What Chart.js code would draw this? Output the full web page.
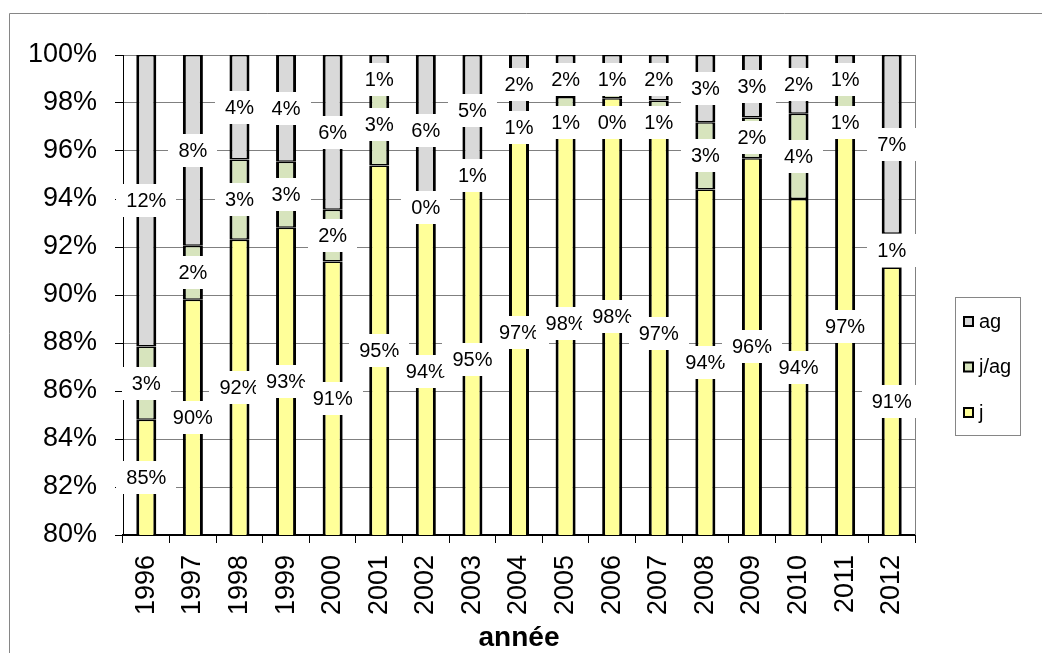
<!DOCTYPE html>
<html>
<head>
<meta charset="utf-8">
<script src="https://cdn.jsdelivr.net/npm/chart.js@4.4.1/dist/chart.umd.min.js"></script>
<style>
  html, body { margin: 0; padding: 0; background: #fff; }
  canvas { display: block; }
</style>
</head>
<body>
<canvas id="chart" width="1042" height="653"></canvas>
<script>
// Categories (years) and the three shares per year, in percent
const years = ['1996','1997','1998','1999','2000','2001','2002','2003','2004','2005','2006','2007','2008','2009','2010','2011','2012'];
const shareJ   = [84.8, 89.8, 92.3, 92.8, 91.4, 95.4, 93.6, 94.6, 96.9, 97.6, 98.2, 96.8, 94.4, 95.7, 94.0, 97.4, 91.15];
const shareJAg = [3.05, 2.25, 3.35, 2.75, 2.15, 3.4, 0.1, 0.8, 0.65, 0.65, 0.4, 1.3, 2.8, 1.7, 3.55, 1.45, 1.4];
const shareAg  = [12.15, 7.95, 4.35, 4.45, 6.45, 1.2, 6.3, 4.6, 2.45, 1.75, 1.4, 1.9, 2.8, 2.6, 2.45, 1.15, 7.45];
const yTicks   = [80, 82, 84, 86, 88, 90, 92, 94, 96, 98, 100];

const FONT = '"Liberation Sans", Arial, sans-serif';

// White page, outer frame and the grey right edge of the plot area
const frame = {
  id: 'frame',
  beforeDraw(chart) {
    const ctx = chart.ctx;
    ctx.save();
    ctx.fillStyle = '#fff';
    ctx.fillRect(0, 0, chart.width, chart.height);
    ctx.strokeStyle = '#868686';
    ctx.lineWidth = 1;
    ctx.beginPath();
    ctx.moveTo(9.5, chart.height + 2);
    ctx.lineTo(9.5, 13.5);
    ctx.lineTo(chart.width + 2, 13.5);
    ctx.stroke();
    ctx.restore();
  },
  beforeDatasetsDraw(chart) {
    const { ctx, chartArea: a } = chart;
    ctx.save();
    ctx.strokeStyle = '#808080';
    ctx.lineWidth = 1;
    const x = Math.round(a.right) + 0.5;
    ctx.beginPath();
    ctx.moveTo(x, a.top);
    ctx.lineTo(x, a.bottom);
    ctx.stroke();
    ctx.restore();
  }
};

// Percentage labels on white boxes, centred on the visible part of each segment;
// boxes in the same column are nudged downwards so they never overlap
const segmentLabels = {
  id: 'segmentLabels',
  afterDatasetsDraw(chart) {
    const { ctx, chartArea: a } = chart;
    const padX = 10, boxH = 33, gap = 10, topMargin = 8;
    ctx.save();
    ctx.font = '20px ' + FONT;
    const n = chart.data.labels.length;
    const placed = chart.data.datasets.map(() => []);
    for (let i = 0; i < n; i++) {
      const col = [];
      chart.data.datasets.forEach((ds, d) => {
        const el = chart.getDatasetMeta(d).data[i];
        const top = Math.max(Math.min(el.y, el.base), a.top);
        const bottom = Math.min(Math.max(el.y, el.base), a.bottom);
        if (bottom <= top) return;
        const text = Math.round(ds.data[i]) + '%';
        const w = ctx.measureText(text).width + 2 * padX;
        col.push({ d, x: el.x, cy: (top + bottom) / 2, w, text });
      });
      col.sort((p, q) => p.cy - q.cy);
      let limit = a.top + topMargin;
      col.forEach(b => {
        if (b.cy - boxH / 2 < limit) b.cy = limit + boxH / 2;
        limit = b.cy + boxH / 2 + gap;
        placed[b.d][i] = b;
      });
    }
    ctx.textAlign = 'center';
    ctx.textBaseline = 'middle';
    placed.forEach(list => {
      list.forEach(b => {
        if (!b) return;
        ctx.fillStyle = '#fff';
        ctx.fillRect(Math.round(b.x - b.w / 2), Math.round(b.cy - boxH / 2), Math.round(b.w), boxH);
        ctx.fillStyle = '#000';
        ctx.fillText(b.text, b.x, b.cy + 1);
      });
    });
    ctx.restore();
  }
};

// Framed legend on the right, series listed top to bottom as stacked
const boxLegend = {
  id: 'boxLegend',
  afterDraw(chart) {
    const ctx = chart.ctx;
    const left = 955, top = 297, w = 65, h = 138;
    ctx.save();
    ctx.fillStyle = '#fff';
    ctx.fillRect(left, top, w, h);
    ctx.strokeStyle = '#868686';
    ctx.lineWidth = 1;
    ctx.strokeRect(left + 0.5, top + 0.5, w, h);
    ctx.font = '20px ' + FONT;
    ctx.textAlign = 'left';
    ctx.textBaseline = 'middle';
    const items = chart.data.datasets.slice().reverse();
    items.forEach((ds, k) => {
      const cy = 322 + k * 45.5;
      ctx.fillStyle = ds.backgroundColor;
      ctx.fillRect(964, cy - 5, 9, 9);
      ctx.strokeStyle = '#000';
      ctx.lineWidth = 2;
      ctx.strokeRect(964, cy - 5, 9, 9);
      ctx.fillStyle = '#000';
      ctx.fillText(ds.label, 979, cy);
    });
    ctx.restore();
  }
};

const barStyle = {
  borderColor: '#000',
  borderWidth: { top: 1.5, bottom: 1.5, left: 3, right: 3 },
  borderSkipped: false,
  barPercentage: 0.43,
  categoryPercentage: 1.0
};

new Chart(document.getElementById('chart'), {
  type: 'bar',
  data: {
    labels: years,
    datasets: [
      Object.assign({ label: 'j',    data: shareJ,   backgroundColor: '#FFFF99' }, barStyle),
      Object.assign({ label: 'j/ag', data: shareJAg, backgroundColor: '#D7E4BD' }, barStyle),
      Object.assign({ label: 'ag',   data: shareAg,  backgroundColor: '#D9D9D9' }, barStyle)
    ]
  },
  options: {
    responsive: false,
    animation: false,
    events: [],
    layout: { padding: { left: 0, top: 55, right: 127, bottom: 0 } },
    plugins: {
      legend: { display: false },
      tooltip: { enabled: false },
      title: { display: false }
    },
    scales: {
      x: {
        stacked: true,
        offset: true,
        afterFit(scale) { scale.height = 118; },
        grid: {
          display: true,
          drawOnChartArea: false,
          drawTicks: true,
          tickLength: 8,
          offset: true,
          tickColor: '#000'
        },
        border: { display: true, color: '#000', width: 2 },
        ticks: {
          color: '#000',
          font: { family: FONT, size: 27 },
          minRotation: 90,
          maxRotation: 90,
          autoSkip: false,
          padding: 12
        },
        title: {
          display: true,
          text: 'année',
          color: '#000',
          font: { family: FONT, size: 28, weight: 'bold', lineHeight: 1 },
          padding: { top: 0, bottom: 1 }
        }
      },
      y: {
        stacked: true,
        min: yTicks[0],
        max: yTicks[yTicks.length - 1],
        afterFit(scale) { scale.width = 123; },
        afterBuildTicks(scale) { scale.ticks = yTicks.map(v => ({ value: v })); },
        grid: {
          color: '#808080',
          lineWidth: 1,
          tickLength: 8,
          tickColor: '#000'
        },
        border: { display: true, color: '#000', width: 1 },
        ticks: {
          color: '#000',
          font: { family: FONT, size: 27 },
          padding: 18,
          callback: v => v + '%'
        }
      }
    }
  },
  plugins: [frame, segmentLabels, boxLegend]
});
</script>
</body>
</html>
